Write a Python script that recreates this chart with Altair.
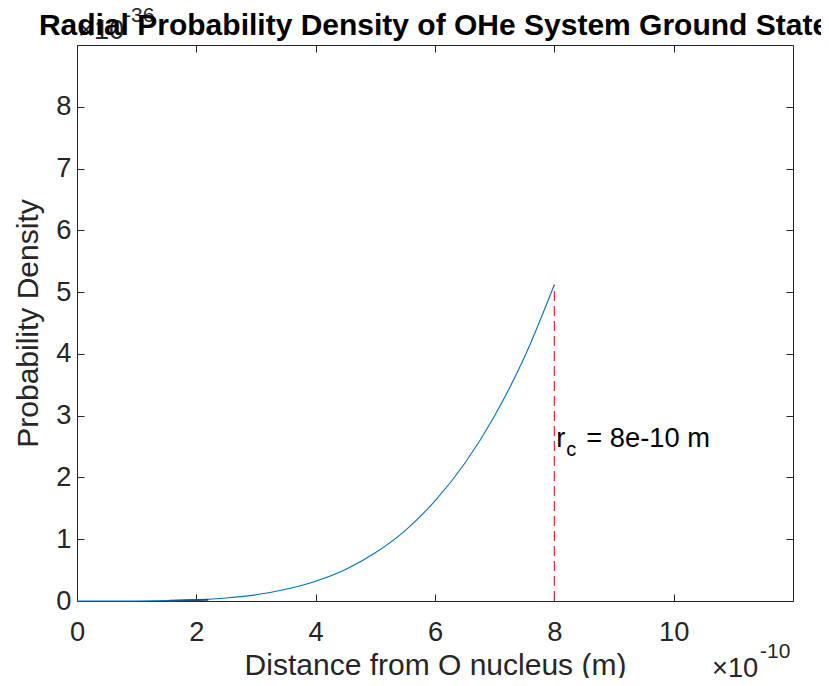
import altair as alt
import pandas as pd

# Data (r in units of 1e-10 m, density in units of 1e-36)
r_vals = [0, 0.5, 1, 1.5, 2, 2.5, 3, 3.5, 4, 4.5, 5, 5.5, 6, 6.5, 7, 7.5, 8]
p_vals = [0, 0.0001, 0.001, 0.006, 0.02, 0.049, 0.10, 0.19, 0.32, 0.51, 0.78,
          1.14, 1.62, 2.23, 3.0, 3.95, 5.12]
# darker overdrawn stretch of the curve near the baseline
seg_r = [1.55, 2.2]
seg_p = [0.003, 0.02]
x_ticks = [0, 2, 4, 6, 8, 10]
y_ticks = [0, 1, 2, 3, 4, 5, 6, 7, 8]
x_domain = [0, 12]
y_domain = [0, 9]
r_c = 8
label_y = 2.62

AX = "#262626"
FONT = "Liberation Sans"
TICK_FS = 27.3
TITLE_FS = 30

df = pd.DataFrame({"r": r_vals, "p": p_vals})
seg_df = pd.DataFrame({"r": seg_r, "p": seg_p})
rule_df = pd.DataFrame({"r": [r_c], "p": [0], "p2": [p_vals[-1]]})
lab_df = pd.DataFrame({"r": [r_c], "p": [label_y]})
one = pd.DataFrame({"k": [0]})

xs = alt.Scale(domain=x_domain, nice=False, zero=False)
ys = alt.Scale(domain=y_domain, nice=False, zero=False)

common = dict(domain=False, grid=False, tickColor=AX, tickSize=7, tickWidth=1,
              offset=-7, labelColor=AX, labelFont=FONT, labelFontSize=TICK_FS,
              labelFlush=False, labelOverlap=False,
              titleColor=AX, titleFont=FONT, titleFontSize=TITLE_FS,
              titleFontWeight="normal", format="d")

line = alt.Chart(df).mark_line(color="#0072BD", strokeWidth=1.1,
                               interpolate="monotone").encode(
    x=alt.X("r:Q", scale=xs,
            axis=alt.Axis(values=x_ticks, orient="bottom",
                          title="Distance from O nucleus (m)",
                          labelPadding=17, titlePadding=5, **common)),
    y=alt.Y("p:Q", scale=ys,
            axis=alt.Axis(values=y_ticks, orient="left",
                          title="Probability Density",
                          labelPadding=6, titlePadding=12, **common)),
)

seg = alt.Chart(seg_df).mark_line(color="#1F4F7E", strokeWidth=2).encode(
    x="r:Q", y="p:Q")

rule = alt.Chart(rule_df).mark_rule(color="#DE2A2F", strokeDash=[10, 5],
                                    strokeWidth=1.2).encode(
    x="r:Q", y="p:Q", y2="p2:Q")

lab_r = alt.Chart(lab_df).mark_text(text="r", align="left", baseline="middle",
                                    dx=2, font=FONT, fontSize=27.3,
                                    color="black").encode(x="r:Q", y="p:Q")
lab_c = alt.Chart(lab_df).mark_text(text="c", align="left", baseline="middle",
                                    dx=12, dy=11, font=FONT, fontSize=20,
                                    color="black").encode(x="r:Q", y="p:Q")
lab_eq = alt.Chart(lab_df).mark_text(text="= 8e-10 m", align="left",
                                     baseline="middle", dx=32, font=FONT,
                                     fontSize=27.3, color="black").encode(
    x="r:Q", y="p:Q")

def txt(s, x, y, size, weight="normal", color=AX, align="left"):
    return alt.Chart(one).mark_text(text=s, align=align, baseline="alphabetic",
                                    font=FONT, fontSize=size, fontWeight=weight,
                                    color=color).encode(
        x=alt.value(x), y=alt.value(y))

title = txt("Radial Probability Density of OHe System Ground State",
            357, -10, TITLE_FS, weight="bold", color="black", align="center")
exp_y1 = txt("×10", 1, -6, TICK_FS)
exp_y2 = txt("-36", 47, -23, 21)
exp_x1 = txt("×10", 635, 632, TICK_FS)
exp_x2 = txt("-10", 683, 613, 21)

inner = alt.layer(line, seg, rule, lab_r, lab_c, lab_eq,
                  exp_y1, exp_y2, title, exp_x1, exp_x2)

frame = alt.Chart(df).mark_line(opacity=0).encode(
    x=alt.X("r:Q", scale=xs,
            axis=alt.Axis(values=x_ticks, orient="top", labels=False,
                          title="", **common)),
    y=alt.Y("p:Q", scale=ys,
            axis=alt.Axis(values=y_ticks, orient="right", labels=False,
                          title="", **common)),
)

chart = alt.layer(inner, frame).resolve_axis(
    x="independent", y="independent"
).properties(
    width=716, height=556,
    autosize=alt.AutoSizeParams(type="none"),
    padding={"left": 69, "top": 37, "right": 28, "bottom": 77},
).configure_view(stroke=AX, strokeWidth=1)

chart.save("out.html", embed_options={"renderer": "svg", "actions": False})
